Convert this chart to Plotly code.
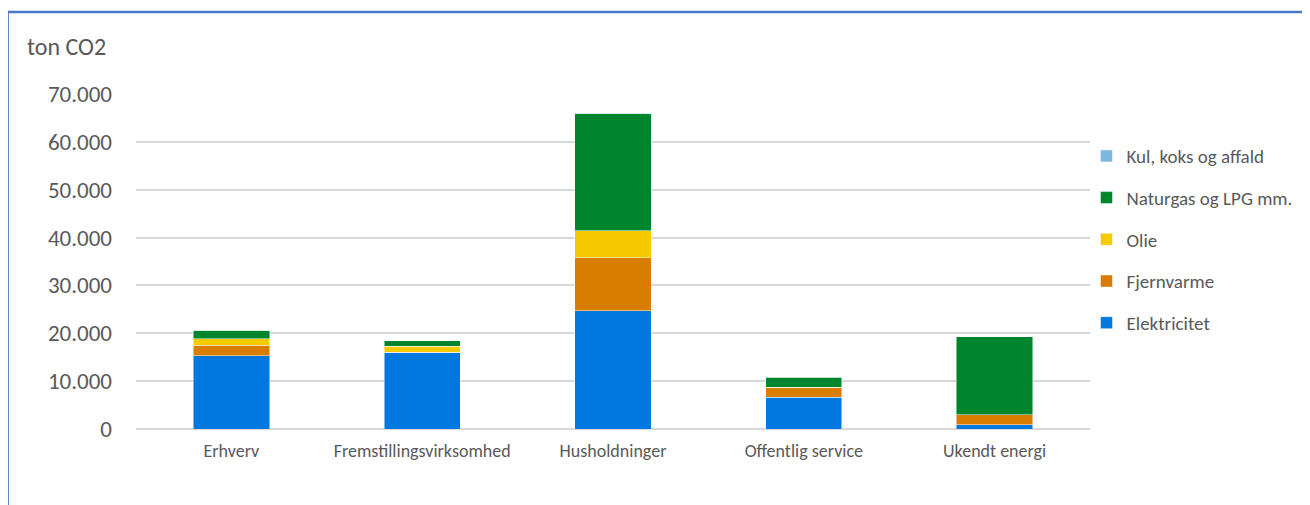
import plotly.graph_objects as go

categories = ["Erhverv", "Fremstillingsvirksomhed", "Husholdninger", "Offentlig service", "Ukendt energi"]
elektricitet = [15300, 15900, 24700, 6600, 850]
fjernvarme = [2250, 100, 11100, 2100, 2100]
olie = [1300, 1300, 5600, 50, 0]
naturgas = [1750, 1100, 24500, 2100, 16300]
kul = [30, 20, 50, 20, 30]

series = [
    ("Elektricitet", elektricitet, "#0078DF"),
    ("Fjernvarme", fjernvarme, "#D97D00"),
    ("Olie", olie, "#F5CB00"),
    ("Naturgas og LPG mm.", naturgas, "#00852F"),
    ("Kul, koks og affald", kul, "#7AB8E0"),
]

FONT = "Calibri, Carlito, Lato, sans-serif"
TXT = "#595959"

fig = go.Figure()
n = len(series)
for i, (name, vals, col) in enumerate(series):
    fig.add_trace(go.Bar(
        x=categories, y=vals, name=name, legendgroup=str(i), legendrank=n - i,
        marker=dict(color=col, line=dict(color="rgba(255,255,255,0.6)", width=0.8)),
    ))

# page body has an 8px offset; positions below are in figure coordinates
OFF = 8
L, R, T = 135.5 - OFF, 1090.5 - OFF, 94 - OFF
W, H = 1310, 505
B = H - (428.7 - OFF)
pw = R - L
ph = H - T - B


def px(x):
    return (x - OFF - L) / pw


def py(y):
    return 1 + (T - (y - OFF)) / ph


fig.update_layout(
    width=W, height=H, barmode="stack", bargap=0.6,
    separators=",.",
    paper_bgcolor="white", plot_bgcolor="white",
    margin=dict(l=L, r=W - R, t=T, b=B),
    font=dict(family=FONT, color=TXT),
    legend=dict(
        traceorder="grouped", tracegroupgap=14,
        x=px(1087), xanchor="left", y=py(137), yanchor="top",
        font=dict(size=19, color=TXT, family=FONT), itemwidth=30,
        bgcolor="rgba(0,0,0,0)",
    ),
    xaxis=dict(showgrid=False, showline=False, ticks="", tickfont=dict(size=18, color=TXT),
               ticklabelstandoff=9),
    yaxis=dict(range=[0, 70000], dtick=10000, tickformat=",d", showgrid=True,
               gridcolor="#D9D9D9", gridwidth=1.5, zeroline=True, zerolinecolor="#D9D9D9",
               zerolinewidth=1.5, tickfont=dict(size=23, color=TXT), ticklabelstandoff=23),
    annotations=[dict(text="ton CO2", xref="paper", yref="paper",
                      x=px(24), y=py(47), xanchor="left", yanchor="middle",
                      showarrow=False, font=dict(size=24, color=TXT, family=FONT))],
    shapes=[
        dict(type="line", xref="paper", yref="paper",
             x0=px(7), x1=px(7), y0=py(12), y1=py(530),
             line=dict(color="#4A78C8", width=2.5)),
        dict(type="line", xref="paper", yref="paper",
             x0=px(7), x1=px(1330), y0=py(12), y1=py(12),
             line=dict(color="#4A78C8", width=2.5)),
    ],
)

fig.write_html("out.html")
